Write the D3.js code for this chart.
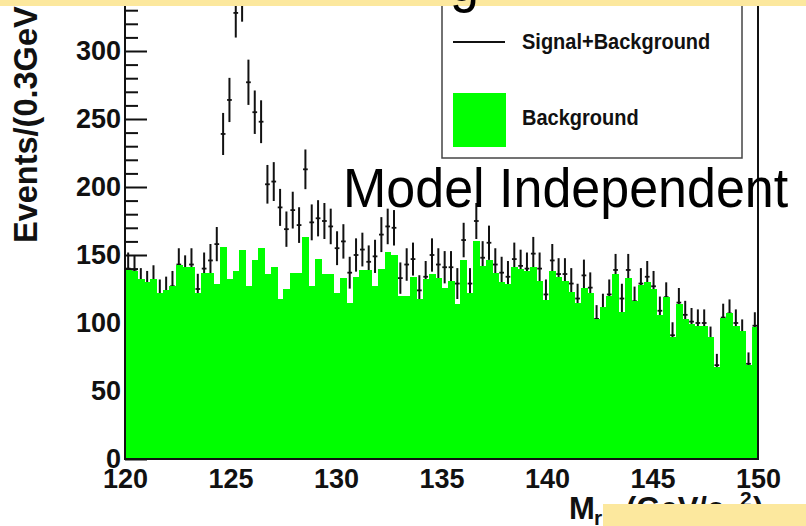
<!DOCTYPE html>
<html>
<head>
<meta charset="utf-8">
<script src="https://cdn.jsdelivr.net/npm/d3@7"></script>
<style>
  html, body { margin: 0; padding: 0; background: #ffffff; overflow: hidden; }
  svg { display: block; }
</style>
</head>
<body>
<svg id="chart" width="806" height="526"></svg>
<script>
// Diphoton-style invariant mass spectrum, 100 bins of 0.3 GeV from 120 to 150 GeV/c^2
const massMin = 120;
const massMax = 150;
const binWidth = 0.3;

// Expected background per bin (filled histogram)
const background = [
  139, 138, 132, 130, 132, 122, 124, 127, 143, 141,
  141, 122, 137, 137, 129, 156, 132, 138, 154, 127,
  146, 155, 136, 141, 118, 125, 137, 137, 163, 127,
  147, 136, 136, 122, 133, 115, 134, 139, 139, 127,
  140, 152, 150, 120, 120, 134, 118, 132, 136, 133,
  126, 131, 114, 146, 122, 160, 142, 146, 137, 130,
  129, 141, 140, 138, 141, 131, 117, 138, 134, 131,
  123, 115, 126, 122, 103, 112, 120, 136, 108, 133,
  116, 128, 130, 125, 106, 119, 90, 114, 103, 99,
  98, 98, 90, 68, 104, 107, 98, 94, 69, 97
];

// Signal+background event counts per bin (points with sqrt(N) errors)
const signalPlusBackground = [
  140, 138, 129, 127, 131, 121, 123, 127, 143, 138,
  143, 125, 140, 146, 158, 239, 264, 328, 340, 277,
  255, 248, 202, 204, 185, 169, 183, 172, 213, 174,
  177, 175, 171, 155, 160, 137, 150, 154, 145, 149,
  165, 171, 170, 133, 143, 147, 124, 134, 150, 143,
  141, 141, 129, 161, 129, 175, 148, 159, 143, 137,
  134, 147, 142, 140, 151, 140, 121, 146, 136, 136,
  129, 118, 135, 126, 103, 111, 121, 139, 118, 139,
  116, 129, 134, 127, 109, 119, 91, 115, 106, 101,
  100, 100, 88, 69, 104, 107, 100, 93, 70, 98
];

const xTicks = [120, 125, 130, 135, 140, 145, 150];
const yTicks = [0, 50, 100, 150, 200, 250, 300];
const yMinorTicks = [10, 20, 30, 40, 60, 70, 80, 90, 110, 120, 130, 140, 160, 170, 180, 190,
                     210, 220, 230, 240, 260, 270, 280, 290, 310, 320, 330, 340];
const legendLabels = ["Signal+Background", "Background"];
const yTitle = "Events/(0.3GeV/c²)";
const slideText = "Model Independent";
const titleFragment = "g";

const FONT = "'Liberation Sans', Arial, Helvetica, sans-serif";
const GREEN = "#00ff00";
const INK = "#111111";
const PAPER_YELLOW = "#fce89e";

const svg = d3.select("#chart");

const x = d3.scaleLinear().domain([massMin, massMax]).range([125, 758]);
const y = d3.scaleLinear().domain([0, 300]).range([459, 51]);

const bins = background.map((b, i) => ({
  lo: massMin + i * binWidth,
  hi: massMin + (i + 1) * binWidth,
  bkg: b,
  obs: signalPlusBackground[i]
}));

// --- tick marks on the left axis (drawn inside the frame) ---
const majorTickAxis = d3.axisRight(y).tickValues(yTicks).tickSize(22).tickFormat("");
const minorTickAxis = d3.axisRight(y).tickValues(yMinorTicks).tickSize(13).tickFormat("");
[majorTickAxis, minorTickAxis].forEach(ax => {
  const g = svg.append("g").attr("transform", `translate(${x(massMin)},0)`).call(ax);
  g.select(".domain").remove();
  g.selectAll("line").attr("stroke", INK).attr("stroke-width", 2);
});

// --- signal+background points with error bars ---
const pts = svg.append("g").attr("class", "points");
pts.selectAll("line.err")
  .data(bins)
  .join("line")
  .attr("class", "err")
  .attr("x1", d => x((d.lo + d.hi) / 2))
  .attr("x2", d => x((d.lo + d.hi) / 2))
  .attr("y1", d => y(d.obs + Math.sqrt(d.obs)))
  .attr("y2", d => y(d.obs - Math.sqrt(d.obs)))
  .attr("stroke", INK)
  .attr("stroke-width", 2);
pts.selectAll("line.bar")
  .data(bins)
  .join("line")
  .attr("class", "bar")
  .attr("x1", d => x(d.lo) + 0.8)
  .attr("x2", d => x(d.hi) - 0.8)
  .attr("y1", d => y(d.obs))
  .attr("y2", d => y(d.obs))
  .attr("stroke", INK)
  .attr("stroke-width", 1.8);

// --- background histogram (filled) ---
svg.append("g").attr("class", "background")
  .selectAll("rect")
  .data(bins)
  .join("rect")
  .attr("x", d => x(d.lo))
  .attr("width", d => x(d.hi) - x(d.lo) + 0.6)
  .attr("y", d => y(d.bkg))
  .attr("height", d => y(0) - y(d.bkg))
  .attr("fill", GREEN)
  .attr("shape-rendering", "crispEdges");

// --- frame ---
const frame = svg.append("g").attr("stroke", INK).attr("stroke-width", 2).attr("fill", "none");
frame.append("line").attr("x1", x(massMin)).attr("x2", x(massMin)).attr("y1", y(350)).attr("y2", y(0));
frame.append("line").attr("x1", x(massMax)).attr("x2", x(massMax)).attr("y1", y(350)).attr("y2", y(0));
frame.append("line").attr("x1", x(massMin) - 1).attr("x2", x(massMax) + 1).attr("y1", y(0)).attr("y2", y(0));

// --- tick labels ---
const yLabels = svg.append("g")
  .attr("transform", `translate(${x(massMin)},0)`)
  .call(d3.axisLeft(y).tickValues(yTicks).tickSize(0).tickPadding(4).tickFormat(d3.format("d")));
yLabels.select(".domain").remove();
yLabels.attr("font-family", FONT).attr("font-size", 27).attr("font-weight", "bold");
yLabels.selectAll("text").attr("fill", INK);

const xLabels = svg.append("g")
  .attr("transform", `translate(0,${y(0)})`)
  .call(d3.axisBottom(x).tickValues(xTicks).tickSize(0).tickFormat(d3.format("d")));
xLabels.select(".domain").remove();
xLabels.attr("font-family", FONT).attr("font-size", 27).attr("font-weight", "bold");
xLabels.selectAll("text").attr("fill", INK).attr("y", 29).attr("dy", 0);

// --- legend ---
const legend = svg.append("g").attr("class", "legend");
legend.append("rect")
  .attr("x", 442).attr("y", -20).attr("width", 300).attr("height", 178)
  .attr("fill", "#ffffff").attr("stroke", "#444444").attr("stroke-width", 1.5);
legend.append("line")
  .attr("x1", 453).attr("x2", 505).attr("y1", 42).attr("y2", 42)
  .attr("stroke", INK).attr("stroke-width", 2);
legend.append("rect")
  .attr("x", 453).attr("y", 93).attr("width", 53).attr("height", 54)
  .attr("fill", GREEN);
legend.selectAll("text")
  .data(legendLabels)
  .join("text")
  .attr("transform", (d, i) => `translate(522,${i === 0 ? 49 : 125}) scale(1,1.1)`)
  .attr("font-family", FONT)
  .attr("font-size", 20)
  .attr("font-weight", "bold")
  .attr("fill", INK)
  .text(d => d);

// --- axis titles ---
svg.append("text")
  .attr("transform", "translate(37,243) rotate(-90)")
  .attr("font-family", FONT)
  .attr("font-size", 32.5)
  .attr("font-weight", "bold")
  .attr("fill", INK)
  .text(yTitle);

const xTitle = svg.append("text")
  .attr("transform", "translate(0,519)")
  .attr("font-family", FONT)
  .attr("font-weight", "bold")
  .attr("fill", INK);
xTitle.append("tspan").attr("x", 569).attr("y", 0).attr("font-size", 31).text("M");
xTitle.append("tspan").attr("x", 594).attr("y", 6).attr("font-size", 21).text("r");
xTitle.append("tspan").attr("x", 626).attr("y", 0).attr("font-size", 31).text("(GeV/c");
xTitle.append("tspan").attr("x", 740).attr("y", -13).attr("font-size", 21).text("2");
xTitle.append("tspan").attr("x", 753).attr("y", 0).attr("font-size", 31).text(")");

// --- slide overlays ---
svg.append("rect").attr("x", 0).attr("y", 0).attr("width", 806).attr("height", 6).attr("fill", PAPER_YELLOW);
svg.append("rect").attr("x", 603).attr("y", 504).attr("width", 203).attr("height", 22).attr("fill", PAPER_YELLOW);

svg.append("text")
  .attr("transform", "translate(450,0.5) scale(1,1.07)")
  .attr("font-family", FONT)
  .attr("font-size", 52)
  .attr("fill", "#000000")
  .text(titleFragment);

svg.append("text")
  .attr("transform", "translate(343,207) scale(1,1.07)")
  .attr("font-family", FONT)
  .attr("font-size", 52)
  .attr("fill", "#000000")
  .text(slideText);
</script>
</body>
</html>
